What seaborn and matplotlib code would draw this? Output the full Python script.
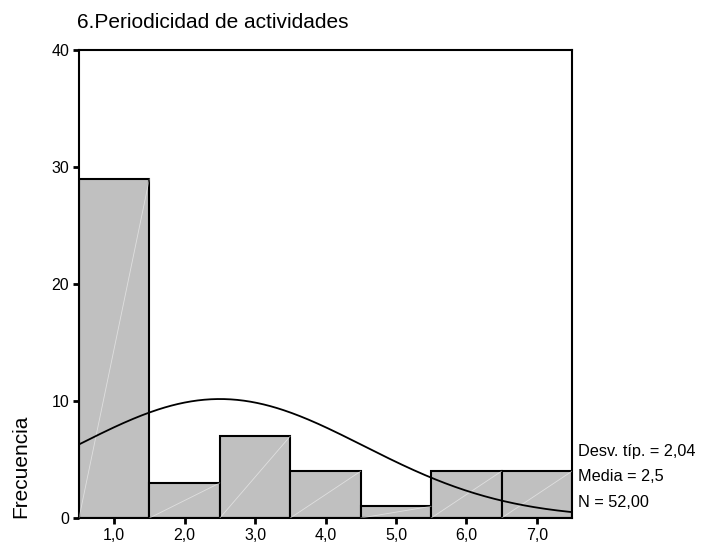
import numpy as np
import pandas as pd
import matplotlib
matplotlib.use("Agg")
import matplotlib.pyplot as plt
import seaborn as sns

# Data
categories = [1, 2, 3, 4, 5, 6, 7]
counts = [29, 3, 7, 4, 1, 4, 4]
tick_labels = ["1,0", "2,0", "3,0", "4,0", "5,0", "6,0", "7,0"]
y_ticks = [0, 10, 20, 30, 40]
mean_val = 2.5
sd_val = 2.04
n_val = 52
stats_lines = ["Desv. típ. = 2,04", "Media = 2,5", "N = 52,00"]
title = "6.Periodicidad de actividades"
ylabel = "Frecuencia"

sns.set_theme(style="white")
plt.rcParams["font.family"] = ["Liberation Sans", "DejaVu Sans"]
plt.rcParams["text.color"] = "black"
plt.rcParams["xtick.color"] = "black"
plt.rcParams["ytick.color"] = "black"

df = pd.DataFrame({"valor": np.repeat(categories, counts)})

fig = plt.figure(figsize=(7.01, 5.47), dpi=100)
ax = fig.add_axes([0.1127, 0.053, 0.7033, 0.8556])

sns.histplot(data=df, x="valor", discrete=True, color="#c0c0c0", alpha=1,
             edgecolor="black", linewidth=1.5, ax=ax)

# faint diagonals inside bars
for c, h in zip(categories, counts):
    ax.plot([c - 0.5, c + 0.5], [0, h], color="white", lw=0.6, alpha=0.5, zorder=3)

# normal curve
xs = np.linspace(0.5, 7.5, 300)
ys = n_val * 1.0 / (sd_val * np.sqrt(2 * np.pi)) * np.exp(-0.5 * ((xs - mean_val) / sd_val) ** 2)
ax.plot(xs, ys, color="black", lw=1.3, zorder=4)

ax.set_xlim(0.5, 7.5)
ax.set_ylim(0, 40)
ax.set_xticks(categories)
ax.set_xticklabels(tick_labels, fontsize=11.5, color="black")
ax.set_yticks(y_ticks)
ax.set_yticklabels([str(v) for v in y_ticks], fontsize=11.5, color="black")
ax.tick_params(axis="both", direction="out", length=4, width=2, color="black",
               bottom=True, left=True, pad=3)
ax.set_xlabel("")
ax.set_ylabel("")
for s in ax.spines.values():
    s.set_visible(True)
    s.set_color("black")
    s.set_linewidth(1.5)

fig.text(0.11, 0.958, title, fontsize=15, ha="left", va="center", color="black")
fig.text(0.030, 0.148, ylabel, fontsize=15, rotation=90, ha="center", va="center", color="black")

for i, line in enumerate(stats_lines):
    fig.text(0.824, 0.174 - i * 0.046, line, fontsize=11.7, ha="left", va="center", color="black")

fig.savefig("out.png", dpi=100)
